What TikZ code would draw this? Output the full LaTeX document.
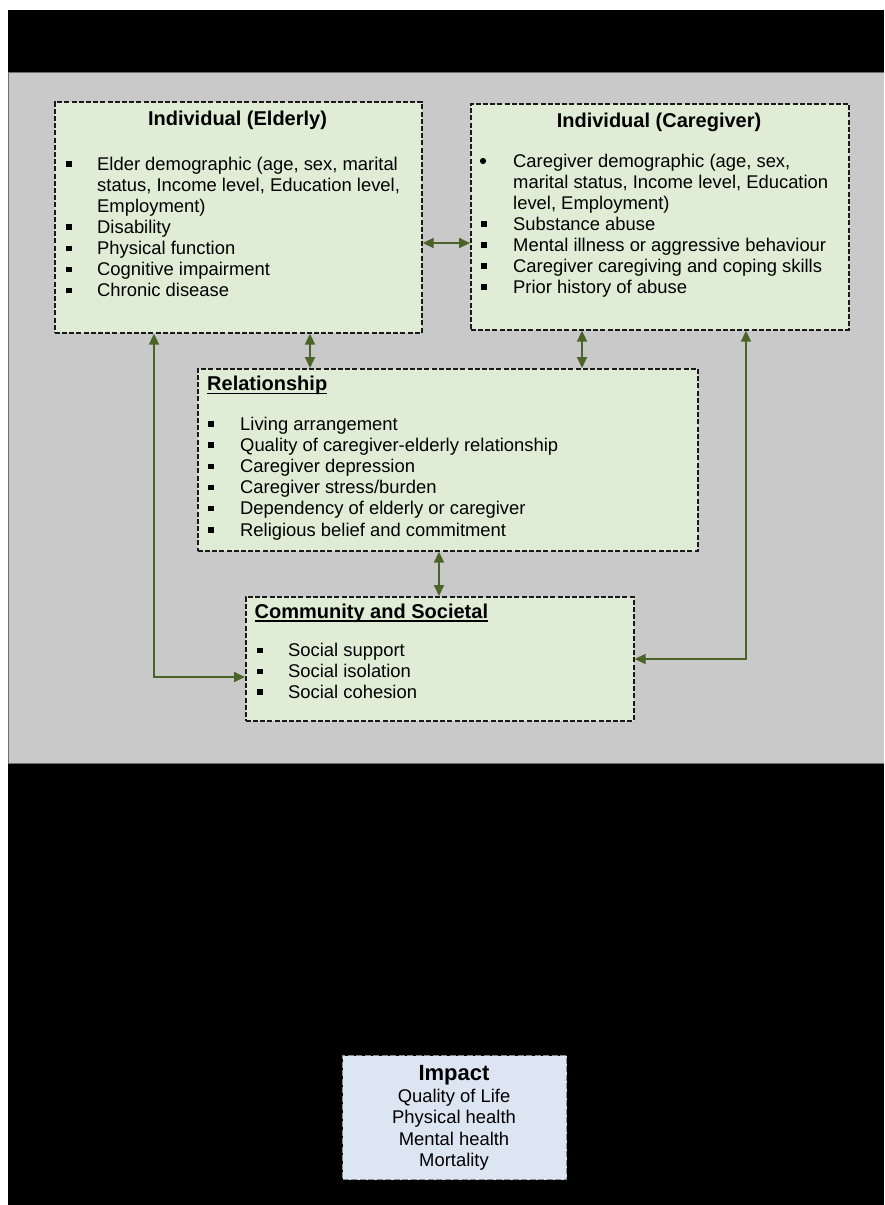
\documentclass[tikz,border=0pt]{standalone}
\usepackage{fontspec}
\setmainfont{Liberation Sans}
\usetikzlibrary{arrows.meta}
\definecolor{boxgreen}{HTML}{DFEDD6}
\definecolor{panelgray}{HTML}{C9C9C9}
\definecolor{panelline}{HTML}{6E6E6E}
\definecolor{arrgreen}{HTML}{4A6326}
\definecolor{impblue}{HTML}{DCE6F2}
\definecolor{impline}{HTML}{8C8C8C}
\newcommand{\sqb}{\raisebox{3.4pt}{\rule{5.5pt}{5.5pt}}}
\newcommand{\itm}[2]{\makebox[#1pt][l]{\sqb}#2}
\begin{document}
\begin{tikzpicture}[x=1pt,y=-1pt,
  gbox/.style={draw=black!90, dash pattern=on 5pt off 2.2pt, line width=1.7pt, fill=boxgreen, anchor=north west, inner sep=0pt},
  body/.style={font=\fontsize{18.4}{21}\selectfont, anchor=base west, inner sep=0pt},
  ttl/.style={font=\fontsize{20}{24}\selectfont\bfseries, inner sep=0pt},
  arr/.style={draw=arrgreen, line width=2pt, {Triangle[length=11pt,width=10pt]}-{Triangle[length=11pt,width=10pt]}}
]
\useasboundingbox (0,0) rectangle (884,1205);
\fill[white] (0,0) rectangle (884,1205);
\fill[black] (8,10) rectangle (884,1205);
\fill[panelgray] (8,72) rectangle (884,763);
\draw[panelline, line width=1pt] (884,72) -- (8.5,72) -- (8.5,763) -- (884,763);

% boxes
\node[gbox, minimum width=367, minimum height=231] (eld) at (54,101) {};
\node[gbox, minimum width=378, minimum height=226] (care) at (470,103) {};
\node[gbox, minimum width=500, minimum height=182] (rel) at (197,368) {};
\node[gbox, minimum width=388, minimum height=124] (com) at (245,596) {};
\node[draw=impline, dash pattern=on 6pt off 2.5pt, line width=1.2pt, fill=impblue, anchor=north west, inner sep=0pt, minimum width=224, minimum height=124] (imp) at (342,1055) {};

% Elderly
\node[ttl, anchor=base] (eldT) at (237.5,125.5) {Individual (Elderly)};
\node[body] (e1) at (66,170) {\itm{31}{Elder demographic (age, sex, marital}};
\node[body] (e2) at (97,191.1) {status, Income level, Education level,};
\node[body] (e3) at (97,212.2) {Employment)};
\node[body] (e4) at (66,233.3) {\itm{31}{Disability}};
\node[body] (e5) at (66,254.4) {\itm{31}{Physical function}};
\node[body] (e6) at (66,275.5) {\itm{31}{Cognitive impairment}};
\node[body] (e7) at (66,296.6) {\itm{31}{Chronic disease}};

% Caregiver
\node[ttl, anchor=base] (careT) at (659,127) {Individual (Caregiver)};
\node[circle, fill=black, inner sep=0pt, minimum size=6.2pt] (c1b) at (483,161) {};
\node[body] (c1) at (513,167.3) {Caregiver demographic (age, sex,};
\node[body] (c2) at (513,188.3) {marital status, Income level, Education};
\node[body] (c3) at (513,209.3) {level, Employment)};
\node[body] (c4) at (481,230.3) {\itm{32}{Substance abuse}};
\node[body] (c5) at (481,251.3) {\itm{32}{Mental illness or aggressive behaviour}};
\node[body] (c6) at (481,272.3) {\itm{32}{Caregiver caregiving and coping skills}};
\node[body] (c7) at (481,293.3) {\itm{32}{Prior history of abuse}};

% Relationship
\node[ttl, anchor=base west] (relT) at (207,390.7) {Relationship};
\draw[line width=1.3pt] ([yshift=-2.6pt]relT.base west) -- ([yshift=-2.6pt]relT.base east);
\node[body] (r1) at (208,430) {\itm{32}{Living arrangement}};
\node[body] (r2) at (208,451.2) {\itm{32}{Quality of caregiver-elderly relationship}};
\node[body] (r3) at (208,472.4) {\itm{32}{Caregiver depression}};
\node[body] (r4) at (208,493.6) {\itm{32}{Caregiver stress/burden}};
\node[body] (r5) at (208,514.8) {\itm{32}{Dependency of elderly or caregiver}};
\node[body] (r6) at (208,536) {\itm{32}{Religious belief and commitment}};

% Community
\node[ttl, anchor=base west] (comT) at (254.5,618.3) {Community and Societal};
\draw[line width=1.3pt] ([yshift=-2.6pt]comT.base west) -- ([yshift=-2.6pt]comT.base east);
\node[body] (s1) at (257,656.7) {\itm{31}{Social support}};
\node[body] (s2) at (257,677.5) {\itm{31}{Social isolation}};
\node[body] (s3) at (257,698.3) {\itm{31}{Social cohesion}};

% Impact
\node[inner sep=0pt, anchor=base, font=\fontsize{22}{26}\selectfont\bfseries] (impT) at (454,1080.7) {Impact};
\node[body, anchor=base] (i1) at (454,1102.3) {Quality of Life};
\node[body, anchor=base] (i2) at (454,1123.7) {Physical health};
\node[body, anchor=base] (i3) at (454,1145.1) {Mental health};
\node[body, anchor=base] (i4) at (454,1166.5) {Mortality};

% connectors
\coordinate (h1) at (0,243);
\coordinate (v1) at (310,0);
\coordinate (v2) at (582,0);
\coordinate (v3) at (439,0);
\coordinate (L) at (154,677);
\coordinate (R) at (746,659);
\draw[arr] (eld.east |- h1) -- (care.west |- h1);
\draw[arr] (eld.south -| v1) -- (rel.north -| v1);
\draw[arr] (care.south -| v2) -- (rel.north -| v2);
\draw[arr] (rel.south -| v3) -- (com.north -| v3);
\draw[arr] (eld.south -| L) -- (L) -- (L -| com.west);
\draw[arr] (care.south -| R) -- (R) -- (R -| com.east);
\end{tikzpicture}
\end{document}
